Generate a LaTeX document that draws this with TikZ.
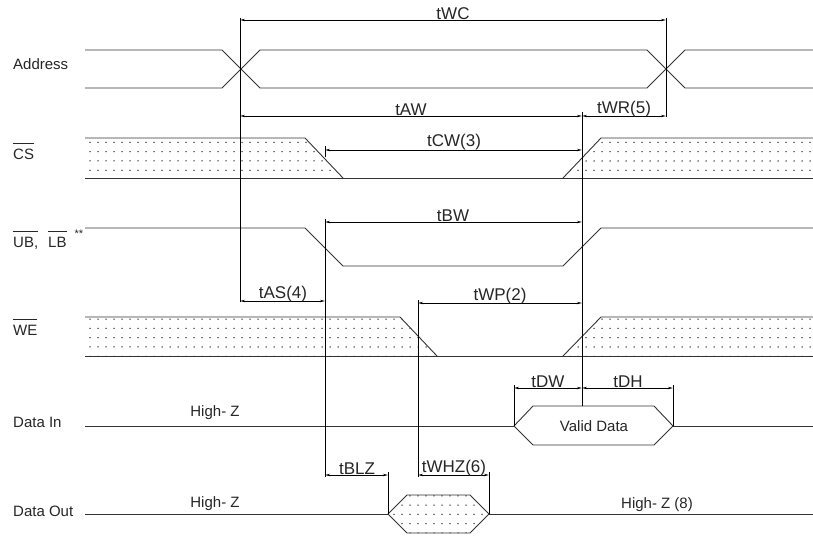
\documentclass[tikz,border=0pt]{standalone}
\usepackage{fontspec}
\setmainfont{Liberation Sans}
\usetikzlibrary{arrows.meta,patterns}
\pgfdeclarepatternformonly{sdots}{\pgfqpoint{-1pt}{-1pt}}{\pgfqpoint{9pt}{10.3pt}}{\pgfqpoint{8pt}{9.3pt}}{%
  \pgfpathcircle{\pgfqpoint{2pt}{2pt}}{0.75pt}%
  \pgfusepath{fill}%
}
\newcommand\ovl[1]{\leavevmode\vbox{\hrule height 0.7pt\kern 4.5pt\hbox{#1}}}
\begin{document}
\begin{tikzpicture}[x=1pt,y=-1pt,
  sig/.style={line width=0.9pt, draw=black!80, line join=miter},
  dim/.style={line width=0.8pt, draw=black, {Stealth[length=5pt,width=2.4pt]}-{Stealth[length=5pt,width=2.4pt]}},
  guide/.style={line width=0.8pt, draw=black},
  tl/.style={font=\fontsize{17}{20}\selectfont, inner sep=0pt, anchor=base, text=black!85},
  sl/.style={font=\fontsize{15}{18}\selectfont, inner sep=0pt, anchor=base west, text=black!85},
  hz/.style={font=\fontsize{15}{18}\selectfont, inner sep=0pt, anchor=base, text=black!85},
  dotfill/.style={pattern=sdots, pattern color=black!85}
]
\useasboundingbox (0,0) rectangle (813,535);
\fill[white] (0,0) rectangle (813,535);

% ---------- signal labels ----------
\node[sl] (lAddr) at (13,69) {Address};
\node[sl] (lCS)   at (13,159) {\ovl{CS}};
\node[sl] (lUB)   at (13,247) {\ovl{UB,}\hspace{10pt}\ovl{LB}\hspace{8pt}\raisebox{10pt}{\fontsize{11}{11}\selectfont **}};
\node[sl] (lWE)   at (13,335) {\ovl{WE}};
\node[sl] (lDI)   at (13,427) {Data In};
\node[sl] (lDO)   at (13,516) {Data Out};

% ---------- Address ----------
\draw[sig] (85,50) -- (222,50) -- (260,88) -- (647,88) -- (685,50) -- (813,50);
\draw[sig] (85,88) -- (222,88) -- (260,50) -- (647,50) -- (685,88) -- (813,88);

% ---------- CS ----------
\fill[dotfill] (85,138) -- (305,138) -- (343,178) -- (85,178) -- cycle;
\fill[dotfill] (563,178) -- (601,138) -- (813,138) -- (813,178) -- cycle;
\draw[sig] (85,138) -- (305,138) -- (343,178);
\draw[sig] (85,178) -- (813,178);
\draw[sig] (563,178) -- (601,138) -- (813,138);

% ---------- UB, LB ----------
\draw[sig] (85,228) -- (305,228) -- (343,266) -- (563,266) -- (601,228) -- (813,228);

% ---------- WE ----------
\fill[dotfill] (85,317) -- (400,317) -- (437,356) -- (85,356) -- cycle;
\fill[dotfill] (563,356) -- (601,317) -- (813,317) -- (813,356) -- cycle;
\draw[sig] (85,317) -- (400,317) -- (437,356);
\draw[sig] (85,356) -- (813,356);
\draw[sig] (563,356) -- (601,317) -- (813,317);

% ---------- Data In ----------
\draw[sig] (85,426) -- (514,426);
\draw[sig] (514,426) -- (533,406) -- (654,406) -- (673,426) -- (654,445) -- (533,445) -- cycle;
\draw[sig] (673,426) -- (813,426);
\node[hz] (vd) at (594,431) {Valid Data};
\node[hz] (hz1) at (215,416) {High- Z};

% ---------- Data Out ----------
\draw[sig] (85,514) -- (388,514);
\filldraw[sig, dotfill] (388,514) -- (407,495) -- (470,495) -- (489,514) -- (470,533) -- (407,533) -- cycle;
\draw[sig] (489,514) -- (813,514);
\node[hz] (hz2) at (215,507) {High- Z};
\node[hz] (hz3) at (657,508) {High- Z (8)};

% ---------- guide lines ----------
\coordinate (g1t) at (240,18);  \coordinate (g1b) at (240,302);
\coordinate (g2t) at (666,18);  \coordinate (g2b) at (666,117);
\coordinate (g3t) at (582,112); \coordinate (g3b) at (582,406);
\coordinate (g4t) at (325,146); \coordinate (g4b) at (325,157);
\coordinate (g5t) at (325,219); \coordinate (g5b) at (325,477);
\coordinate (g6t) at (418,300); \coordinate (g6b) at (418,477);
\coordinate (g7t) at (388,472); \coordinate (g7b) at (388,514);
\coordinate (g8t) at (489,472); \coordinate (g8b) at (489,514);
\coordinate (g9t) at (514,385); \coordinate (g9b) at (514,426);
\coordinate (g10t) at (673,385); \coordinate (g10b) at (673,426);
\foreach \g in {g1,g2,g3,g4,g5,g6,g7,g8,g9,g10}
  \draw[guide] (\g t) -- (\g b);

% ---------- dimension arrows ----------
\coordinate (wcL) at (240,20);  \coordinate (wcR) at (666,20);
\coordinate (awL) at (240,116); \coordinate (awR) at (582,116);
\coordinate (wrR) at (666,116);
\coordinate (cwL) at (325,150); \coordinate (cwR) at (582,150);
\coordinate (bwL) at (325,222); \coordinate (bwR) at (582,222);
\coordinate (asL) at (240,301); \coordinate (asR) at (325,301);
\coordinate (wpL) at (418,303); \coordinate (wpR) at (582,303);
\coordinate (dwL) at (514,388); \coordinate (dwR) at (582,388);
\coordinate (dhR) at (673,388);
\coordinate (blL) at (325,475); \coordinate (blR) at (388,475);
\coordinate (whL) at (418,475); \coordinate (whR) at (489,475);

\draw[dim] (wcL) -- (wcR);
\draw[dim] (awL) -- (awR);
\draw[dim] (awR) -- (wrR);
\draw[dim] (cwL) -- (cwR);
\draw[dim] (bwL) -- (bwR);
\draw[dim] (asL) -- (asR);
\draw[dim] (wpL) -- (wpR);
\draw[dim] (dwL) -- (dwR);
\draw[dim] (dwR) -- (dhR);
\draw[dim] (blL) -- (blR);
\draw[dim] (whL) -- (whR);

% ---------- timing labels ----------
\node[tl] (tWC) at (453,19.5) {tWC};
\node[tl] (tAW) at (411,115.5) {tAW};
\node[tl] (tWR) at (624,113) {tWR(5)};
\node[tl] (tCW) at (454,146.5) {tCW(3)};
\node[tl] (tBW) at (453,221.5) {tBW};
\node[tl] (tAS) at (283,298) {tAS(4)};
\node[tl] (tWP) at (500,300) {tWP(2)};
\node[tl] (tDW) at (548,387.5) {tDW};
\node[tl] (tDH) at (628,387.5) {tDH};
\node[tl] (tBLZ) at (357,474.5) {tBLZ};
\node[tl] (tWHZ) at (454,472) {tWHZ(6)};
\end{tikzpicture}
\end{document}
